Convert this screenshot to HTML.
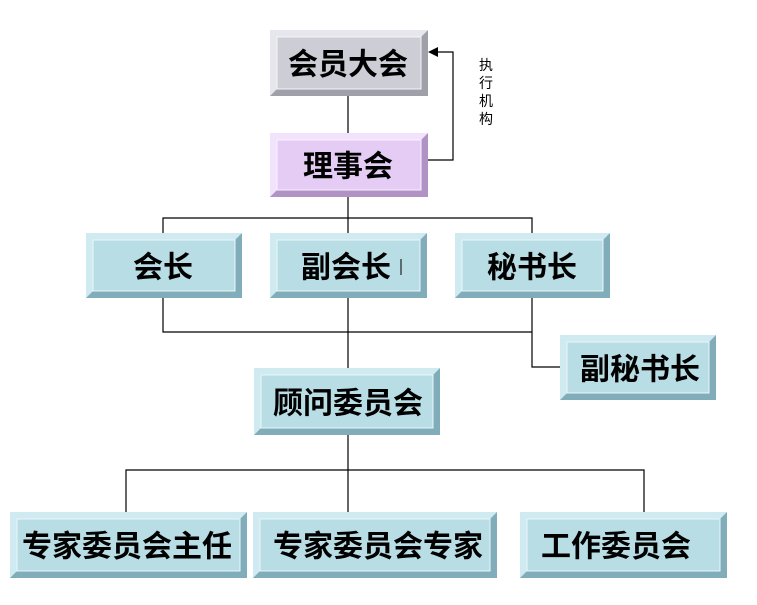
<!DOCTYPE html>
<html><head><meta charset="utf-8"><style>
html,body{margin:0;padding:0;background:#fff;}
svg{display:block;}
text{font-family:"Liberation Sans","Noto Sans CJK SC",sans-serif;}
.t{font-size:30px;font-weight:bold;fill:#000;text-anchor:middle;dominant-baseline:central;}
.s{font-size:14px;fill:#000;text-anchor:middle;}
.bd{fill:#80adb9}.bl{fill:#cfeaf0}.bf{fill:#b8dde5;stroke:#eaf7fa;stroke-width:1}
.gd{fill:#a0a0aa}.gl{fill:#e6e6ec}.gf{fill:#cdcdd6;stroke:#f4f4f7;stroke-width:1}
.pd{fill:#b092c4}.pl{fill:#f1e3fb}.pf{fill:#e4ccf4;stroke:#faf2ff;stroke-width:1}
</style></head><body>
<svg width="757" height="605" viewBox="0 0 757 605">
<g stroke="#000" stroke-width="1.2" fill="none">
<line x1="348" y1="96" x2="348" y2="133"/>
<line x1="348" y1="197" x2="348" y2="233"/>
<polyline points="163,233 163,218 532,218 532,233"/>
<polyline points="163,298 163,332 532,332"/>
<line x1="348" y1="298" x2="348" y2="368"/>
<polyline points="532,298 532,367 560,367"/>
<line x1="348" y1="435" x2="348" y2="470"/>
<polyline points="126,512 126,470 644,470 644,512"/>
<line x1="348" y1="470" x2="348" y2="512"/>
<polyline points="428,160 453,160 453,52 436,52"/>
</g>
<polygon points="428,52 438,47 438,57" fill="#000"/>
<text class="s" x="486" y="70">执</text>
<text class="s" x="486" y="88">行</text>
<text class="s" x="486" y="106">机</text>
<text class="s" x="486" y="124">构</text>

<rect class="gd" x="270" y="30" width="158" height="66"/>
<polygon class="gl" points="270,30 428,30 421,37 277,37 277,89 270,96"/>
<rect class="gf" x="277" y="37" width="144" height="52"/>
<text class="t" x="348" y="65">会员大会</text>

<rect class="pd" x="270" y="133" width="158" height="64"/>
<polygon class="pl" points="270,133 428,133 421,140 277,140 277,190 270,197"/>
<rect class="pf" x="277" y="140" width="144" height="50"/>
<text class="t" x="348" y="167">理事会</text>

<rect class="bd" x="86" y="233" width="156" height="65"/>
<polygon class="bl" points="86,233 242,233 235,240 93,240 93,291 86,298"/>
<rect class="bf" x="93" y="240" width="142" height="51"/>
<text class="t" x="163" y="268">会长</text>

<rect class="bd" x="270" y="233" width="157" height="65"/>
<polygon class="bl" points="270,233 427,233 420,240 277,240 277,291 270,298"/>
<rect class="bf" x="277" y="240" width="143" height="51"/>
<text class="t" x="346" y="268">副会长</text>
<line x1="401" y1="259" x2="401" y2="275" stroke="#000" stroke-width="1"/>

<rect class="bd" x="455" y="233" width="155" height="65"/>
<polygon class="bl" points="455,233 610,233 603,240 462,240 462,291 455,298"/>
<rect class="bf" x="462" y="240" width="141" height="51"/>
<text class="t" x="532" y="268">秘书长</text>

<rect class="bd" x="560" y="335" width="156" height="65"/>
<polygon class="bl" points="560,335 716,335 709,342 567,342 567,393 560,400"/>
<rect class="bf" x="567" y="342" width="142" height="51"/>
<text class="t" x="640" y="370">副秘书长</text>

<rect class="bd" x="254" y="368" width="186" height="67"/>
<polygon class="bl" points="254,368 440,368 433,375 261,375 261,428 254,435"/>
<rect class="bf" x="261" y="375" width="172" height="53"/>
<text class="t" x="348" y="404">顾问委员会</text>

<rect class="bd" x="10" y="512" width="237" height="66"/>
<polygon class="bl" points="10,512 247,512 240,519 17,519 17,571 10,578"/>
<rect class="bf" x="17" y="519" width="223" height="52"/>
<text class="t" x="127" y="547">专家委员会主任</text>

<rect class="bd" x="253" y="512" width="244" height="66"/>
<polygon class="bl" points="253,512 497,512 490,519 260,519 260,571 253,578"/>
<rect class="bf" x="260" y="519" width="230" height="52"/>
<text class="t" x="378" y="547">专家委员会专家</text>

<rect class="bd" x="520" y="512" width="207" height="66"/>
<polygon class="bl" points="520,512 727,512 720,519 527,519 527,571 520,578"/>
<rect class="bf" x="527" y="519" width="193" height="52"/>
<text class="t" x="616" y="547">工作委员会</text>
</svg>
</body></html>
